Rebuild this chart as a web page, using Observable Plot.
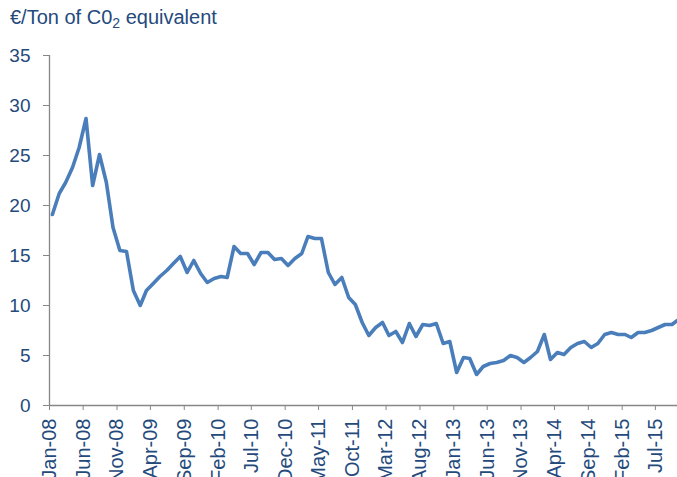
<!DOCTYPE html>
<html><head><meta charset="utf-8">
<script src="https://cdn.jsdelivr.net/npm/d3@7"></script>
<script src="https://cdn.jsdelivr.net/npm/@observablehq/plot@0.6"></script>
<style>
body{margin:0;background:#fff;font-family:"Liberation Sans",Arial,sans-serif;}
#wrap{position:relative;width:677px;height:477px;overflow:hidden;}
#title{position:absolute;left:10px;top:6px;font-size:20px;color:#244A7C;white-space:nowrap;z-index:2;}
#title sub{font-size:14px;vertical-align:-4px;line-height:0;}
#chart{position:absolute;left:0;top:0;}
#chart svg text{fill:#244A7C;}
</style></head><body>
<div id="wrap"><div id="title">€/Ton of C0<sub>2</sub> equivalent</div><div id="chart"></div></div>
<script>
// Monthly values starting Jan-08
const firstMonth = "2008-01";
const prices = [
  19.1, 21.2, 22.3, 23.8, 25.8, 28.7, 22.0, 25.1, 22.3, 17.8, 15.5, 15.4,
  11.5, 10.0, 11.5, 12.2, 12.9, 13.5, 14.2, 14.9, 13.3, 14.5, 13.2, 12.3,
  12.7, 12.9, 12.8, 15.9, 15.2, 15.2, 14.1, 15.3, 15.3, 14.6, 14.7, 14.0,
  14.7, 15.2, 16.9, 16.7, 16.7, 13.3, 12.1, 12.8, 10.8, 10.1, 8.3, 7.0,
  7.8, 8.3, 7.0, 7.4, 6.3, 8.2, 6.9, 8.1, 8.0, 8.2, 6.2, 6.4,
  3.3, 4.8, 4.7, 3.1, 3.9, 4.2, 4.3, 4.5, 5.0, 4.8, 4.3, 4.8,
  5.4, 7.1, 4.6, 5.3, 5.1, 5.8, 6.2, 6.4, 5.8, 6.2, 7.1, 7.3,
  7.1, 7.1, 6.8, 7.3, 7.3, 7.5, 7.8, 8.1, 8.1, 8.6
];
const xTickLabels = ["Jan-08","Jun-08","Nov-08","Apr-09","Sep-09","Feb-10","Jul-10","Dec-10","May-11","Oct-11","Mar-12","Aug-12","Jan-13","Jun-13","Nov-13","Apr-14","Sep-14","Feb-15","Jul-15"];
const yTicks = [0, 5, 10, 15, 20, 25, 30, 35];

const parseTick = d3.utcParse("%b-%y");
const fmtTick = d3.utcFormat("%b-%y");
const start = d3.utcParse("%Y-%m")(firstMonth);
const data = prices.map((v, i) => ({date: d3.utcDay.offset(d3.utcMonth.offset(start, i), 13), price: v}));
const tickDates = xTickLabels.map(parseTick);

const axisGrey = "#868686";
const textCol = "#244A7C";

const chart = Plot.plot({
  width: 677,
  height: 477,
  marginTop: 55,
  marginBottom: 72,
  marginLeft: 49,
  marginRight: 0,
  style: {fontFamily: '"Liberation Sans", Arial, sans-serif', fontSize: "19px", background: "transparent", overflow: "visible"},
  x: {type: "utc", domain: [start, new Date(Date.UTC(2015, 9, 9))]},
  y: {domain: [0, 35]},
  marks: [
    Plot.axisY({ticks: yTicks, tickSize: 6, tickPadding: 13, stroke: axisGrey, fill: textCol, fontSize: 19, label: null}),
    Plot.axisX({ticks: tickDates, tickFormat: fmtTick, tickRotate: -90, tickSize: 5, tickPadding: 8, stroke: axisGrey, fill: textCol, fontSize: 20, label: null}),
    Plot.ruleY([0], {stroke: axisGrey, strokeWidth: 1.3}),
    Plot.ruleX([start], {y1: 0, y2: 35, stroke: axisGrey, strokeWidth: 1.3}),
    Plot.lineY(data, {x: "date", y: "price", stroke: "#4A7EBB", strokeWidth: 3.6, strokeLinejoin: "round", strokeLinecap: "round", clip: false})
  ]
});
document.getElementById("chart").appendChild(chart);
</script>
</body></html>
